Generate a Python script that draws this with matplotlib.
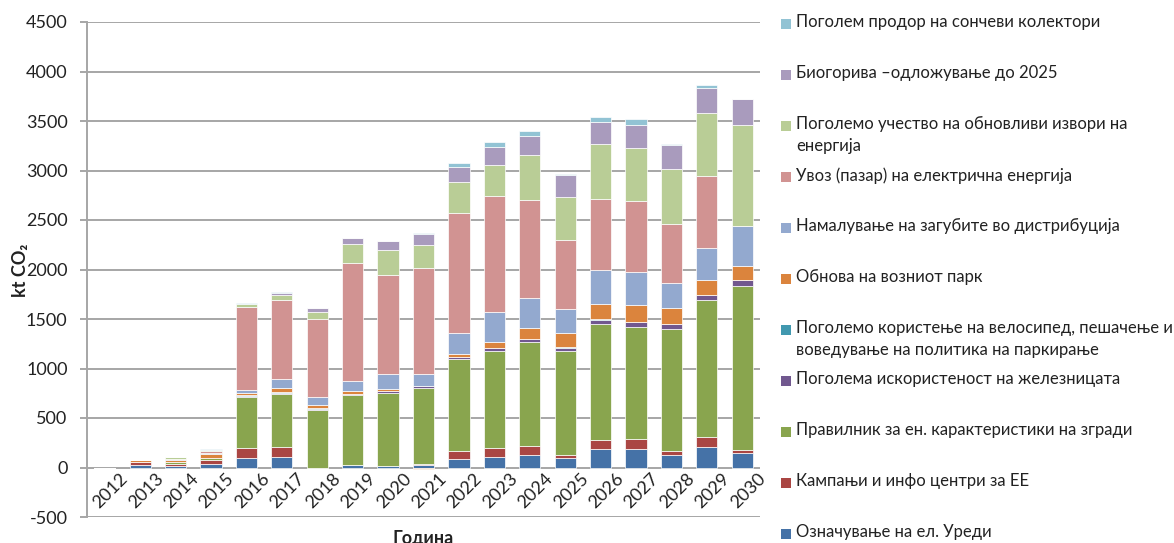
import numpy as np
import matplotlib
matplotlib.use("Agg")
import matplotlib.pyplot as plt
from matplotlib.patches import Rectangle
from matplotlib.ticker import FuncFormatter

plt.rcParams['font.family'] = ['Lato', 'DejaVu Sans']

years = [str(y) for y in range(2012, 2031)]

# Reductions per measure, kt CO2 (stacked bottom to top)
labelling = [0, 25, 15, 40, 95, 105, 0, 25, 20, 25, 90, 105, 125, 95, 182, 186, 125, 206, 145]
campaigns = [0, 30, 20, 40, 98, 100, 0, 0, 0, 15, 72, 88, 91, 30, 95, 101, 37, 101, 31]
buildings = [0, 0, 20, 15, 523, 541, 581, 705, 737, 761, 930, 979, 1047, 1047, 1172, 1135, 1240, 1382, 1662]
railway = [0, 0, 3, 3, 10, 11, 12, 13, 17, 24, 21, 31, 31, 38, 44, 48, 48, 51, 51]
cycling = [0, 0, 0, 3, 3, 3, 3, 3, 3, 3, 3, 3, 3, 3, 3, 3, 3, 3, 3]
fleet = [0, 20, 20, 35, 28, 40, 40, 25, 18, -12, 27, 61, 112, 142, 159, 172, 162, 155, 145]
losses = [0, 0, 5, 10, 30, 92, 81, 98, 149, 114, 216, 300, 300, 243, 341, 334, 253, 321, 399]
imports = [0, 0, 5, 20, 831, 804, 780, 1196, 1000, 1075, 1216, 1173, 990, 696, 717, 717, 588, 723, 0]
renewables = [0, 0, 15, 15, 30, 50, 75, 196, 250, 226, 311, 320, 453, 439, 550, 533, 557, 635, 1023]
biofuels = [0, 0, 0, 0, 5, 17, 37, 60, 91, 118, 145, 176, 196, 219, 226, 233, 243, 260, 267]
solar = [0, 0, 0, 3, 5, 5, 0, 0, 0, 10, 41, 47, 50, 14, 55, 55, 14, 28, 0]

series = [
    (labelling, '#4572A7', 'Означување на ел. Уреди'),
    (campaigns, '#AA4643', 'Кампањи и инфо центри за ЕЕ'),
    (buildings, '#89A54E', 'Правилник за ен. карактеристики на згради'),
    (railway, '#71588F', 'Поголема искористеност на железницата'),
    (cycling, '#4198AF', 'Поголемо користење на велосипед, пешачење и\nвоведување на политика на паркирање'),
    (fleet, '#DB843D', 'Обнова на возниот парк'),
    (losses, '#93A9CF', 'Намалување на загубите во дистрибуција'),
    (imports, '#D19392', 'Увоз (пазар) на електрична енергија'),
    (renewables, '#B9CD96', 'Поголемо учество на обновливи извори на\nенергија'),
    (biofuels, '#A99BBD', 'Биогорива –одложување до 2025'),
    (solar, '#92C3D4', 'Поголем продор на сончеви колектори'),
]

W, H = 1174, 543
fig = plt.figure(figsize=(W / 100, H / 100), dpi=100)
ax = fig.add_axes([87 / W, 1 - 517 / H, (760 - 87) / W, (517 - 22) / H])

x = np.arange(len(years))
pos = np.zeros(len(years))
neg = np.zeros(len(years))
for vals, color, label in series:
    v = np.array(vals, dtype=float)
    bottom = np.where(v >= 0, pos, neg)
    ax.bar(x, v, bottom=bottom, width=0.6, color=color, edgecolor='#ffffff',
           linewidth=0.5, zorder=3)
    pos += np.clip(v, 0, None)
    neg += np.clip(v, None, 0)

ax.set_xlim(-0.5, len(years) - 0.5)
ax.set_ylim(-500, 4500)
ax.set_yticks(np.arange(-500, 4501, 500))
ax.yaxis.set_major_formatter(FuncFormatter(lambda v, p: f'{int(v)}'))
ax.yaxis.grid(True, color='#a6a6a6', linewidth=1.4, zorder=0)
ax.set_axisbelow(True)
for s in ['top', 'right', 'bottom']:
    ax.spines[s].set_visible(False)
ax.spines['left'].set_color('#a6a6a6')
ax.spines['left'].set_linewidth(1.4)
ax.tick_params(axis='y', colors='#a6a6a6', length=5, width=1.4, pad=9,
               labelcolor='#222222', labelsize=13)
ax.set_xticks([])

for xi, yr in zip(x, years):
    ax.text(xi + 0.42, -25, yr, rotation=45, ha='right', va='top',
            rotation_mode='anchor', fontsize=13, color='#222222')

fig.text(20 / W, 1 - 270 / H, 'kt CO₂', rotation=90, ha='center', va='center',
         fontsize=13, fontweight='bold', color='#222222')
fig.text((87 + 760) / 2 / W, 1 - 530 / H, 'Година', ha='center', va='top',
         fontsize=13, fontweight='bold', color='#222222')

# legend, top entry first
y0, step = 24, 51
for i, (vals, color, label) in enumerate(reversed(series)):
    yc = y0 + i * step
    fig.patches.append(Rectangle((781 / W, 1 - (yc + 5) / H), 10 / W, 10 / H,
                                 transform=fig.transFigure, facecolor=color,
                                 edgecolor='none'))
    fig.text(796 / W, 1 - (yc - 10) / H, label, ha='left', va='top',
             fontsize=12, color='#222222', linespacing=1.45)

fig.savefig('out.png', dpi=100)
